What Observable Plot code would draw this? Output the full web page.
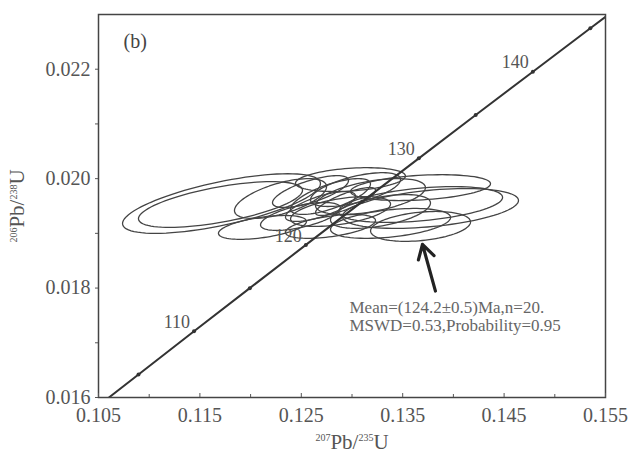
<!DOCTYPE html>
<html><head><meta charset="utf-8">
<script src="https://cdn.jsdelivr.net/npm/d3@7"></script>
<script src="https://cdn.jsdelivr.net/npm/@observablehq/plot@0.6"></script>
<style>body{margin:0;background:#fff}</style>
</head><body><div id="chart"></div>
<script>
// Concordia curve (age in Ma, 207Pb/235U, 206Pb/238U)
const concordiaAge = [102.3, 105, 110, 115, 120, 125, 130, 135, 140, 145, 146.32];
const concordiaX = [0.106029, 0.108945, 0.114419, 0.119921, 0.125449, 0.131005, 0.136588, 0.142198, 0.147837, 0.153503, 0.155];
const concordiaY = [0.016000, 0.016421, 0.017210, 0.017999, 0.018789, 0.019580, 0.020371, 0.021163, 0.021955, 0.022748, 0.022957];
const markedAges = [105, 110, 115, 120, 125, 130, 135, 140, 145];
const labeledAges = [110, 120, 130, 140];

// Error ellipses (centre, half-widths, correlation)
const ellipseCx  = [0.11713, 0.11703, 0.12295, 0.12117, 0.12492, 0.12689, 0.12788, 0.12591, 0.12936, 0.13035, 0.12887, 0.13182, 0.13281, 0.13676, 0.13774, 0.13676, 0.13676, 0.13380, 0.12788, 0.12985];
const ellipseCy  = [0.019545, 0.019527, 0.019636, 0.019109, 0.019309, 0.019491, 0.019673, 0.019764, 0.019582, 0.019800, 0.019400, 0.019673, 0.019400, 0.019836, 0.019455, 0.019527, 0.019127, 0.019182, 0.019127, 0.019982];
const ellipseSx  = [0.00976, 0.00809, 0.00454, 0.00434, 0.00394, 0.00345, 0.00394, 0.00375, 0.00296, 0.00444, 0.00493, 0.00542, 0.00493, 0.00690, 0.00868, 0.00809, 0.00493, 0.00592, 0.00444, 0.00542];
const ellipseSy  = [0.000545, 0.000418, 0.000364, 0.000218, 0.000255, 0.000273, 0.000327, 0.000291, 0.000255, 0.000309, 0.000273, 0.000327, 0.000309, 0.000236, 0.000364, 0.000327, 0.000273, 0.000273, 0.000218, 0.000218];
const ellipseRho = [0.67, 0.62, 0.60, 0.50, 0.60, 0.70, 0.70, 0.70, 0.80, 0.60, 0.50, 0.50, 0.50, 0.30, 0.40, 0.40, 0.30, 0.40, 0.50, 0.30];

const xTicks = [0.105, 0.115, 0.125, 0.135, 0.145, 0.155];
const xMinorTicks = [0.110, 0.120, 0.130, 0.140, 0.150];
const yTicks = [0.016, 0.018, 0.020, 0.022];
const yMinorTicks = [0.017, 0.019, 0.021];
const annotation = ["Mean=(124.2±0.5)Ma,n=20.", "MSWD=0.53,Probability=0.95"];
const yTitle = [["206", "sup"], ["Pb/", ""], ["238", "sup"], ["U", ""]];
const xTitle = [["207", "sup"], ["Pb/", ""], ["235", "sup"], ["U", ""]];
const arrowTail = [0.13823, 0.017945];
const arrowTip = [0.13695, 0.01880];

const concordia = concordiaAge.map((a, i) => ({age: a, x: concordiaX[i], y: concordiaY[i]}));
const marked = concordia.filter(d => markedAges.includes(d.age));
const labeled = concordia.filter(d => labeledAges.includes(d.age));

const ellipsePts = [];
const N = 90;
ellipseCx.forEach((cx, i) => {
  const sx = ellipseSx[i], sy = ellipseSy[i], r = ellipseRho[i], cy = ellipseCy[i];
  for (let k = 0; k <= N; k++) {
    const t = 2 * Math.PI * k / N;
    ellipsePts.push({id: i, x: cx + sx * Math.cos(t), y: cy + sy * (r * Math.cos(t) + Math.sqrt(1 - r * r) * Math.sin(t))});
  }
});

const plain = parts => parts.map(p => p[0]).join("");
const fmt = d3.format(".3f");
const chart = Plot.plot({
  width: 630, height: 460,
  marginLeft: 98, marginRight: 25, marginTop: 14, marginBottom: 63,
  x: {domain: [0.105, 0.155]},
  y: {domain: [0.016, 0.023]},
  style: {fontFamily: "'Liberation Serif', 'Times New Roman', serif", background: "#fff", color: "#555"},
  marks: [
    Plot.line(ellipsePts, {x: "x", y: "y", z: "id", stroke: "#444", strokeWidth: 1.3, clip: true}),
    Plot.line(concordia, {x: "x", y: "y", stroke: "#333", strokeWidth: 2, clip: true}),
    Plot.dot(marked, {x: "x", y: "y", r: 2, fill: "#333"}),
    Plot.text(labeled, {x: "x", y: "y", text: d => String(d.age), textAnchor: "end", dx: -4, dy: -9, fontSize: 18, fill: "#555", letterSpacing: "0.5px"}),
    Plot.arrow([0], {x1: () => arrowTail[0], y1: () => arrowTail[1], x2: () => arrowTip[0], y2: () => arrowTip[1], stroke: "#222", strokeWidth: 3.2, headLength: 14}),
    Plot.text([annotation[0]], {x: () => 0.12975, y: () => 0.017764, textAnchor: "start", lineAnchor: "top", fontSize: 17, fill: "#666", letterSpacing: "0.9px"}),
    Plot.text([annotation[1]], {x: () => 0.12975, y: () => 0.017764, dy: 18, textAnchor: "start", lineAnchor: "top", fontSize: 17, fill: "#666", letterSpacing: "0.9px"}),
    Plot.frame({stroke: "#444", strokeWidth: 1.5}),
    Plot.axisX({ticks: xTicks, tickSize: -4, tickPadding: 14, tickFormat: fmt, fontSize: 20, label: null, letterSpacing: "1px"}),
    Plot.axisX({ticks: xMinorTicks, tickSize: -3, tickFormat: () => "", label: null}),
    Plot.axisY({ticks: yTicks, tickSize: 3, tickPadding: 5, tickFormat: fmt, fontSize: 20, label: null, letterSpacing: "1px"}),
    Plot.axisY({ticks: yMinorTicks, tickSize: 3, tickFormat: () => "", label: null}),
    Plot.text(["(b)"], {frameAnchor: "top-left", dx: 25, dy: 19, textAnchor: "start", fontSize: 20, fill: "#444", letterSpacing: "1px"}),
    Plot.text([plain(yTitle)], {frameAnchor: "left", dx: -81, rotate: -90, textAnchor: "middle", fontSize: 21, fill: "#555"}),
    Plot.text([plain(xTitle)], {frameAnchor: "bottom", dy: 51, textAnchor: "middle", fontSize: 21, fill: "#555"})
  ]
});

// Turn the isotope digits of the axis titles into superscripts
function superscript(parts) {
  d3.select(chart).selectAll("text").filter(function() { return this.textContent === plain(parts); })
    .each(function() {
      const t = d3.select(this);
      t.text(null);
      parts.forEach(([s, kind], j) => {
        const ts = t.append("tspan").text(s);
        if (kind === "sup") ts.attr("font-size", 10).attr("dy", -7.5);
        else if (j > 0 && parts[j - 1][1] === "sup") ts.attr("dy", 7.5);
      });
    });
}
superscript(yTitle);
superscript(xTitle);
document.getElementById("chart").appendChild(chart);
</script>
</body></html>
